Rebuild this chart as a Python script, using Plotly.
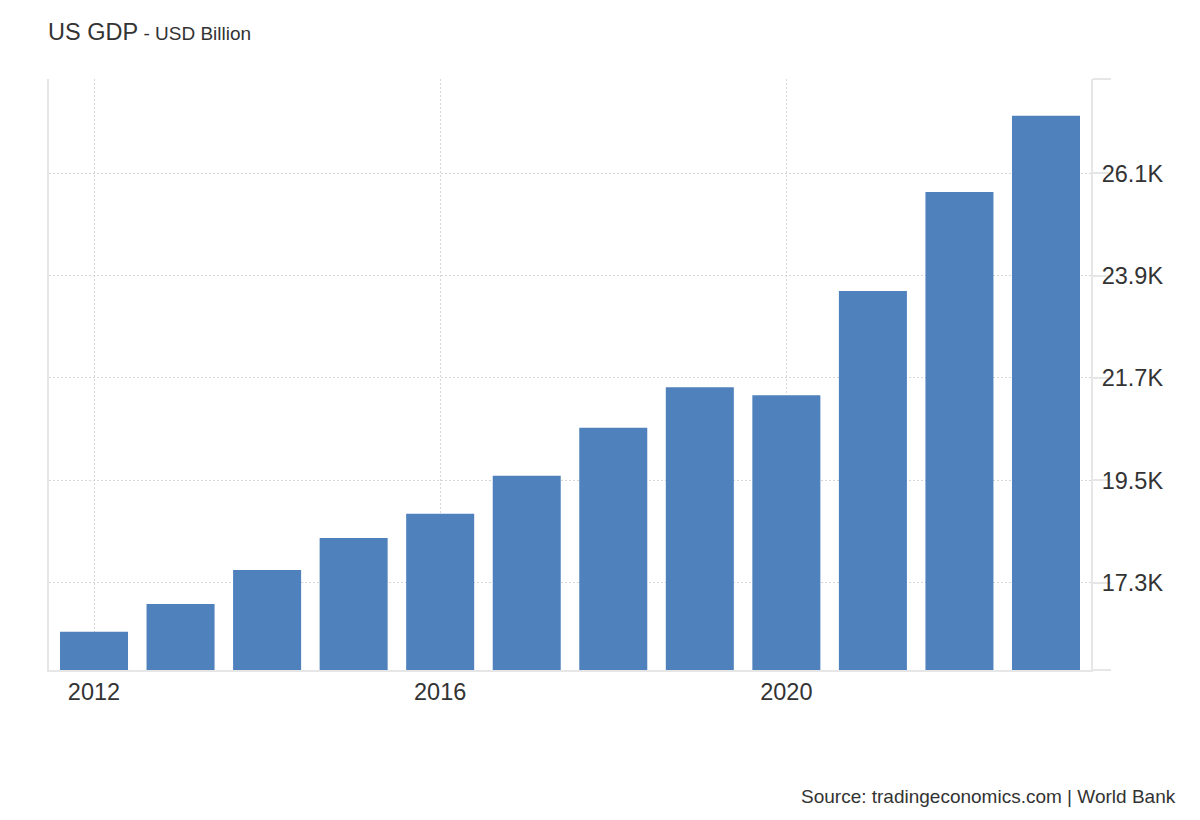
import plotly.graph_objects as go

# US GDP, USD billion
years = [2012, 2013, 2014, 2015, 2016, 2017, 2018, 2019, 2020, 2021, 2022, 2023]
gdp = [16240, 16840, 17570, 18260, 18780, 19600, 20630, 21500, 21330, 23570, 25700, 27340]

y_ticks = [17300, 19500, 21700, 23900, 26100]
y_labels = ["17.3K", "19.5K", "21.7K", "23.9K", "26.1K"]
x_ticks = [2012, 2016, 2020]

y_min, y_max = 15420, 28130

# page body has an 8px margin, so everything is placed 8px up/left
fig = go.Figure()
fig.add_trace(go.Bar(x=years, y=gdp, width=0.786, marker=dict(color="#4f81bd", line=dict(width=0)),
                     hoverinfo="x+y"))

fig.update_layout(
    width=1200, height=820,
    margin=dict(l=41, r=117, t=71, b=158),
    paper_bgcolor="white", plot_bgcolor="white",
    font=dict(family="Liberation Sans, Arial, sans-serif", color="#333333"),
    showlegend=False,
    title=dict(text="US GDP<span style='font-size:19px'> - USD Billion</span>",
               font=dict(size=23.5, color="#333333"),
               xref="container", yref="container", x=40 / 1200, xanchor="left",
               y=1 - 24 / 820, yanchor="middle"),
    annotations=[dict(text="Source: tradingeconomics.com | World Bank", showarrow=False,
                      xref="paper", yref="paper", x=(1170 - 41) / 1042, y=(662 - 788) / 591,
                      xanchor="right", yanchor="middle", font=dict(size=19, color="#333333"))],
)

fig.update_xaxes(
    range=[2011.48, 2023.52], tickvals=x_ticks, ticktext=[str(v) for v in x_ticks],
    tickfont=dict(size=23.5, color="#333333"),
    showgrid=True, gridcolor="#d6d6d6", gridwidth=1, griddash="2px,2px",
    showline=True, linecolor="#e6e6e6", linewidth=2,
    ticks="", zeroline=False,
)

fig.update_yaxes(
    side="right", range=[y_min, y_max],
    tickvals=[y_min] + y_ticks + [y_max], ticktext=[""] + y_labels + [""],
    tickfont=dict(size=23.5, color="#333333"),
    ticks="outside", ticklen=18, tickcolor="#e6e6e6", tickwidth=1.5,
    ticklabelstandoff=-14,
    showgrid=True, gridcolor="#d6d6d6", gridwidth=1, griddash="2px,2px",
    showline=True, mirror=True, linecolor="#e6e6e6", linewidth=2,
    zeroline=False,
)

fig.write_html("out.html")
